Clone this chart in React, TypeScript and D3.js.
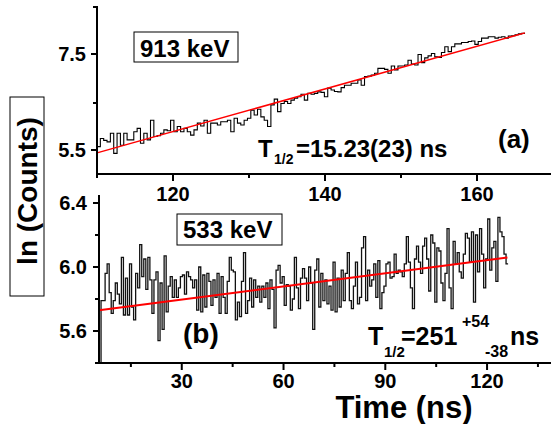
import React from 'react';
import * as d3 from 'd3';

// ---------- Panel (a): 913 keV ----------
const topStart = 110;
const topBinWidth = 0.44;
const topCounts = [
  5.57, 5.74, 5.70, 5.67, 5.85, 5.43, 5.85, 5.60, 5.85, 5.71,
  5.71, 5.88, 5.95, 5.64, 5.85, 5.71, 6.12, 5.78, 5.80, 5.85,
  5.92, 5.90, 6.12, 5.88, 5.99, 5.88, 5.95, 5.88, 5.81, 5.92,
  6.06, 6.00, 6.12, 5.85, 6.06, 6.06, 6.02, 6.09, 6.09, 6.12,
  5.88, 6.16, 6.06, 6.02, 6.12, 6.16, 6.33, 6.23, 6.35, 6.19,
  6.12, 5.99, 6.44, 6.56, 6.30, 6.47, 6.51, 6.47, 6.54, 6.58,
  6.61, 6.66, 6.54, 6.68, 6.66, 6.68, 6.71, 6.70, 6.61, 6.79,
  6.75, 6.72, 6.71, 6.80, 6.85, 6.85, 6.89, 6.89, 6.96, 6.85,
  7.03, 7.04, 7.06, 7.10, 7.20, 7.20, 7.18, 7.10, 7.25, 7.17,
  7.25, 7.25, 7.27, 7.37, 7.29, 7.27, 7.49, 7.32, 7.42, 7.46,
  7.51, 7.44, 7.43, 7.53, 7.65, 7.55, 7.65, 7.71, 7.71, 7.74,
  7.74, 7.76, 7.77, 7.70, 7.76, 7.83, 7.83, 7.86, 7.86, 7.83,
  7.85, 7.86, 7.83, 7.875, 7.88, 7.90, 7.92, 7.93,
];
const topFitT = [110, 166.3];
const topFitV = [5.44, 7.94];
const topXTicks = [120, 140, 160];
const topXMinor = [110, 130, 150, 170];
const topYTicks = [5.5, 7.5];
const topYMinor = [6.5, 8.5];

// ---------- Panel (b): 533 keV ----------
const botStart = 5.6;
const botBinWidth = 0.6;
const botCounts = [
  5.2, 5.79, 5.79, 5.96, 6.02, 5.84, 5.71, 5.79, 5.90, 5.83,
  5.77, 6.06, 5.70, 5.93, 5.70, 6.02, 5.75, 5.67, 5.96, 5.87,
  6.14, 5.94, 6.05, 5.86, 6.06, 5.92, 5.71, 5.92, 5.97, 5.54,
  5.90, 5.61, 6.07, 5.72, 5.88, 5.94, 5.81, 5.92, 5.81, 5.87,
  5.94, 5.95, 5.83, 5.97, 5.94, 5.92, 5.87, 5.92, 5.73, 6.00,
  5.72, 5.95, 5.75, 5.96, 5.91, 5.76, 5.92, 5.81, 5.96, 5.71,
  5.94, 5.81, 5.71, 5.91, 6.06, 5.98, 5.97, 5.67, 5.78, 5.69,
  5.91, 6.09, 5.71, 5.79, 5.93, 5.75, 5.92, 5.81, 5.88, 5.78,
  5.88, 5.81, 5.90, 5.74, 5.92, 5.86, 5.62, 5.98, 6.01, 5.90,
  5.94, 5.76, 5.89, 5.88, 5.73, 5.80, 6.06, 5.87, 5.74, 5.93,
  5.99, 5.93, 5.79, 6.00, 5.90, 5.61, 5.98, 6.05, 5.75, 5.96,
  5.79, 5.92, 5.77, 5.88, 5.73, 6.03, 5.72, 5.93, 5.75, 5.98,
  5.79, 5.96, 6.09, 5.79, 5.74, 5.88, 6.03, 5.77, 5.81, 6.12,
  6.19, 5.79, 5.98, 5.88, 5.92, 6.02, 5.81, 6.04, 5.74, 5.84,
  5.88, 6.02, 6.03, 5.93, 5.94, 6.08, 5.96, 5.98, 5.97, 5.94,
  6.02, 6.19, 6.03, 5.87, 5.74, 6.05, 6.13, 6.03, 5.96, 6.13,
  6.18, 6.05, 5.85, 6.20, 6.15, 5.78, 6.12, 6.10, 5.90, 5.79,
  5.96, 6.24, 5.87, 5.74, 6.16, 6.02, 6.09, 5.97, 5.93, 6.08,
  6.21, 6.18, 6.03, 6.22, 5.78, 6.20, 5.97, 6.24, 6.08, 5.87,
  6.05, 6.30, 5.98, 6.12, 6.16, 5.91, 6.31, 6.22, 6.19, 6.08,
  6.02,
];
const botFitT = [5.6, 126.0];
const botFitV = [5.73, 6.06];
const botXTicks = [30, 60, 90, 120];
const botXMinor = [15, 45, 75, 105, 135];
const botYTicks = [5.6, 6.0, 6.4];
const botYMinor = [5.4, 5.8, 6.2];

const FONT = '"Liberation Sans", Arial, Helvetica, sans-serif';

function stepPath(start: number, w: number, vals: number[], x: any, y: any) {
  const pts: [number, number][] = vals.map((v, i) => [start + i * w, v]);
  pts.push([start + vals.length * w, vals[vals.length - 1]]);
  return d3
    .line<[number, number]>()
    .x((d) => x(d[0]))
    .y((d) => y(d[1]))
    .curve(d3.curveStepAfter)(pts) as string;
}

export default function App() {
  const xA = d3.scaleLinear().domain([110, 170]).range([97, 553]);
  const yA = d3.scaleLinear().domain([5.0, 8.5]).range([174, 6]);
  const xB = d3.scaleLinear().domain([5.6, 140]).range([99, 554.9]);
  const yB = d3.scaleLinear().domain([5.4, 6.45]).range([363, 195]).clamp(true);

  const fitLine = d3.line<[number, number]>().x((d) => d[0]).y((d) => d[1]);

  const tickFont = { fontFamily: FONT, fontWeight: 700, fontSize: 20 } as const;

  return (
    <svg
      width={551}
      height={424}
      style={{ position: 'absolute', left: 0, top: 0, background: '#fff' }}
    >
      <rect x={0} y={0} width={551} height={424} fill="#fff" />

      {/* ===== Panel (a) ===== */}
      <path d={stepPath(topStart, topBinWidth, topCounts, xA, yA)} fill="none" stroke="#000" strokeWidth={1.1} />
      <path
        d={fitLine(topFitT.map((t, i) => [xA(t), yA(topFitV[i])]) as [number, number][]) as string}
        stroke="#ff0000"
        strokeWidth={1.5}
        fill="none"
      />
      <line x1={xA(110)} x2={xA(110)} y1={yA(8.5)} y2={yA(5.0)} stroke="#000" strokeWidth={2} />
      <line x1={xA(110) - 1} x2={560} y1={yA(5.0)} y2={yA(5.0)} stroke="#000" strokeWidth={2} />
      {topYTicks.map((v) => (
        <g key={'ay' + v}>
          <line x1={xA(110) - 6} x2={xA(110)} y1={yA(v)} y2={yA(v)} stroke="#000" strokeWidth={2} />
          <text x={86} y={yA(v) + 7} textAnchor="end" style={tickFont}>{v.toFixed(1)}</text>
        </g>
      ))}
      {topYMinor.map((v) => (
        <line key={'aym' + v} x1={xA(110) - 4} x2={xA(110)} y1={yA(v) + 1} y2={yA(v) + 1} stroke="#000" strokeWidth={2} />
      ))}
      {topXTicks.map((v) => (
        <g key={'ax' + v}>
          <line x1={xA(v)} x2={xA(v)} y1={yA(5.0)} y2={yA(5.0) + 7} stroke="#000" strokeWidth={2} />
          <text x={xA(v)} y={201} textAnchor="middle" style={tickFont}>{v}</text>
        </g>
      ))}
      {topXMinor.map((v) => (
        <line key={'axm' + v} x1={xA(v)} x2={xA(v)} y1={yA(5.0)} y2={yA(5.0) + 4} stroke="#000" strokeWidth={2} />
      ))}
      <rect x={134} y={32} width={104} height={30} fill="#fff" stroke="#000" strokeWidth={1} />
      <text x={140} y={57} style={{ fontFamily: FONT, fontWeight: 700, fontSize: 24 }}>913 keV</text>
      <text x={258} y={157} style={{ fontFamily: FONT, fontWeight: 700, fontSize: 24 }}>T</text>
      <text x={274} y={164} style={{ fontFamily: FONT, fontWeight: 700, fontSize: 14 }}>1/2</text>
      <text x={296} y={157} style={{ fontFamily: FONT, fontWeight: 700, fontSize: 24 }}>=15.23(23) ns</text>
      <text x={498} y={148} style={{ fontFamily: FONT, fontWeight: 700, fontSize: 26 }}>(a)</text>

      {/* ===== Panel (b) ===== */}
      <path d={stepPath(botStart, botBinWidth, botCounts, xB, yB)} fill="none" stroke="#111" strokeWidth={1.3} />
      <path
        d={fitLine(botFitT.map((t, i) => [xB(t), yB(botFitV[i])]) as [number, number][]) as string}
        stroke="#ff0000"
        strokeWidth={2}
        fill="none"
      />
      <line x1={xB(5.6)} x2={xB(5.6)} y1={yB(6.45)} y2={yB(5.4)} stroke="#000" strokeWidth={2} />
      <line x1={xB(5.6) - 1} x2={560} y1={yB(5.4)} y2={yB(5.4)} stroke="#000" strokeWidth={2} />
      {botYTicks.map((v) => (
        <g key={'by' + v}>
          <line x1={xB(5.6) - 6} x2={xB(5.6)} y1={yB(v)} y2={yB(v)} stroke="#000" strokeWidth={2} />
          <text x={87} y={yB(v) + 7} textAnchor="end" style={tickFont}>{v.toFixed(1)}</text>
        </g>
      ))}
      {botYMinor.map((v) => (
        <line key={'bym' + v} x1={xB(5.6) - 4} x2={xB(5.6)} y1={yB(v)} y2={yB(v)} stroke="#000" strokeWidth={2} />
      ))}
      {botXTicks.map((v) => (
        <g key={'bx' + v}>
          <line x1={xB(v)} x2={xB(v)} y1={yB(5.4)} y2={yB(5.4) + 7} stroke="#000" strokeWidth={2} />
          <text x={xB(v)} y={388} textAnchor="middle" style={tickFont}>{v}</text>
        </g>
      ))}
      {botXMinor.map((v) => (
        <line key={'bxm' + v} x1={xB(v)} x2={xB(v)} y1={yB(5.4)} y2={yB(5.4) + 4} stroke="#000" strokeWidth={2} />
      ))}
      <rect x={177} y={214} width={105} height={31} fill="#fff" stroke="#000" strokeWidth={1} />
      <text x={183} y={238} style={{ fontFamily: FONT, fontWeight: 700, fontSize: 24 }}>533 keV</text>
      <text x={183} y={343} style={{ fontFamily: FONT, fontWeight: 700, fontSize: 28 }}>(b)</text>
      <text x={368} y={345} style={{ fontFamily: FONT, fontWeight: 700, fontSize: 25 }}>T</text>
      <text x={384} y={357} style={{ fontFamily: FONT, fontWeight: 700, fontSize: 15 }}>1/2</text>
      <text x={401} y={345} style={{ fontFamily: FONT, fontWeight: 700, fontSize: 25 }}>=251</text>
      <text x={462} y={327} style={{ fontFamily: FONT, fontWeight: 700, fontSize: 16 }}>+54</text>
      <text x={485} y={357} style={{ fontFamily: FONT, fontWeight: 700, fontSize: 16 }}>-38</text>
      <text x={510} y={345} style={{ fontFamily: FONT, fontWeight: 700, fontSize: 25 }}>ns</text>

      {/* shared labels */}
      <rect x={10} y={97} width={34} height={199} fill="#fff" stroke="#000" strokeWidth={1} />
      <text
        transform="translate(37,191) rotate(-90)"
        textAnchor="middle"
        style={{ fontFamily: FONT, fontWeight: 700, fontSize: 28 }}
      >
        ln (Counts)
      </text>
      <text x={404} y={418} textAnchor="middle" style={{ fontFamily: FONT, fontWeight: 700, fontSize: 31 }}>
        Time (ns)
      </text>
    </svg>
  );
}
